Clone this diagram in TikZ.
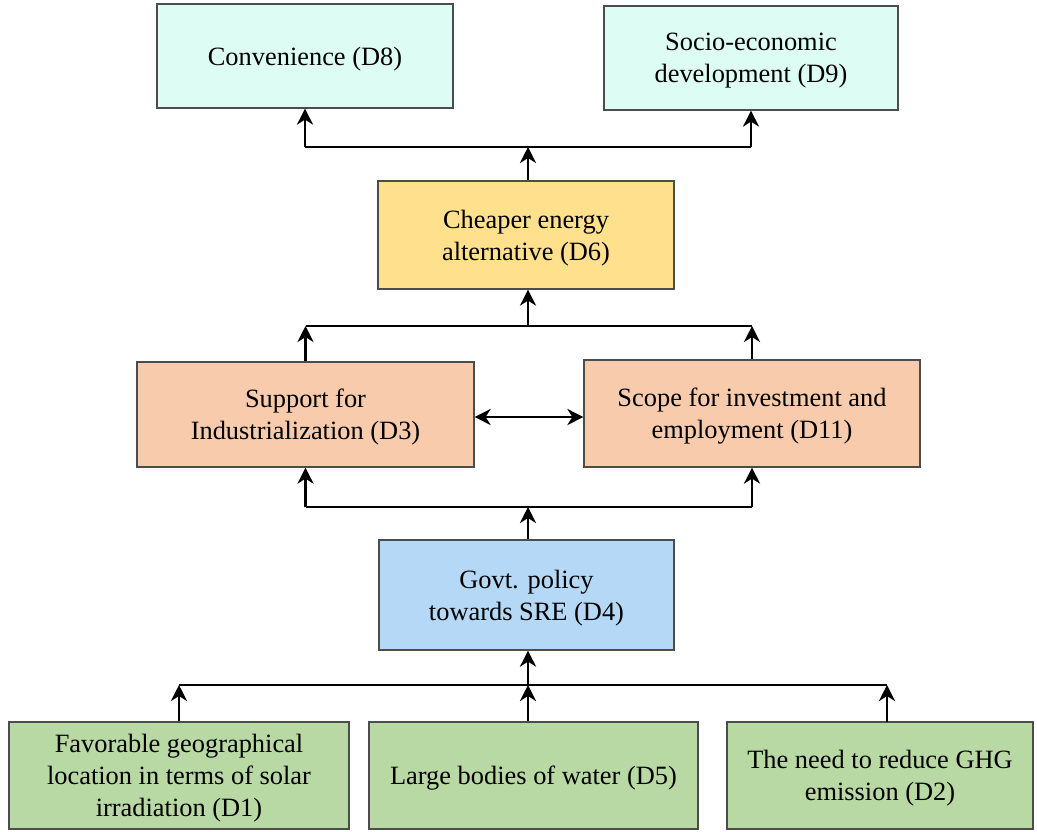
\documentclass[tikz,border=0pt]{standalone}
\usepackage{fontspec}
\setmainfont{Liberation Serif}
\usetikzlibrary{positioning, arrows.meta, calc}

\definecolor{outcome}{RGB}{220,252,244}
\definecolor{cheap}{RGB}{255,224,140}
\definecolor{support}{RGB}{248,203,172}
\definecolor{policy}{RGB}{180,216,245}
\definecolor{driver}{RGB}{184,216,164}

\begin{document}
\begin{tikzpicture}[x=0.5pt, y=-0.5pt]

        % Setup the styles for the boxes and links
        \tikzset{box style/.style={draw=black!70,
                                   line width=0.6pt,
                                   align=center,
                                   inner sep=2pt,
                                   text depth=-1pt,
                                   font=\fontsize{13.2}{16}\selectfont},
                 link/.style={line width=0.8pt, draw=black},
                 arrow/.style={line width=1.4pt, draw=black, -{Stealth[length=8pt, width=8pt, inset=2.5pt]}},
                 twoway/.style={line width=1.4pt, draw=black,
                                {Stealth[length=8pt, width=8pt, inset=2.5pt]}-{Stealth[length=8pt, width=8pt, inset=2.5pt]}}}

        \useasboundingbox (0,0) rectangle (1037,831);

        % Draw the boxes
        \node[box style, fill=outcome, minimum width=148pt, minimum height=52pt] at (305, 56) (d8) {Convenience (D8)};
        \node[box style, fill=outcome, minimum width=147pt, minimum height=52pt] at (751, 58) (d9) {Socio-economic\\development (D9)};
        \node[box style, fill=cheap, minimum width=148pt, minimum height=54pt] at (526, 235) (d6) {Cheaper energy\\alternative (D6)};
        \node[box style, fill=support, minimum width=168.5pt, minimum height=52.5pt] at (305.5, 414.5) (d3) {Support for\\Industrialization (D3)};
        \node[box style, fill=support, minimum width=168pt, minimum height=53.5pt] at (752, 413.5) (d11) {Scope for investment and\\employment (D11)};
        \node[box style, fill=policy, minimum width=147.5pt, minimum height=55pt] at (526.5, 595) (d4) {Govt. policy\\towards SRE (D4)};
        \node[box style, fill=driver, minimum width=170pt, minimum height=53.5pt] at (179, 775.5) (d1) {Favorable geographical\\location in terms of solar\\irradiation (D1)};
        \node[box style, fill=driver, minimum width=164.5pt, minimum height=53.5pt] at (533.5, 775.5) (d5) {Large bodies of water (D5)};
        \node[box style, fill=driver, minimum width=153pt, minimum height=53.5pt] at (880, 775.5) (d2) {The need to reduce GHG\\emission (D2)};

        % Junction points
        \coordinate (top) at (528, 147);
        \coordinate (mid) at (528, 326);
        \coordinate (low) at (528, 507);
        \coordinate (base) at (528, 685);
        \coordinate (d2in) at (887, 722);

        % Connect the boxes
        \draw[arrow] (top |- d6.north) -- (top);
        \draw[link] (d8.south |- top) -- (d9.south |- top);
        \draw[arrow] (d8.south |- top) -- (d8.south);
        \draw[arrow] (d9.south |- top) -- (d9.south);

        \draw[arrow] (mid) -- (mid |- d6.south);
        \draw[link] (d3.north |- mid) -- (d11.north |- mid);
        \draw[arrow] (d3.north) -- (d3.north |- mid);
        \draw[arrow] (d11.north) -- (d11.north |- mid);

        \draw[twoway] (d3.east |- 0,417) -- (d11.west |- 0,417);

        \draw[arrow] (low |- d4.north) -- (low);
        \draw[link] (d3.south |- low) -- (d11.south |- low);
        \draw[arrow] (d3.south |- low) -- (d3.south);
        \draw[arrow] (d11.south |- low) -- (d11.south);

        \draw[arrow] (base) -- (base |- d4.south);
        \draw[link] (d1.north |- base) -- (d2in |- base);
        \draw[arrow] (d1.north) -- (d1.north |- base);
        \draw[arrow] (base |- d5.north) -- (base);
        \draw[arrow] (d2in) -- (d2in |- base);

\end{tikzpicture}
\end{document}
